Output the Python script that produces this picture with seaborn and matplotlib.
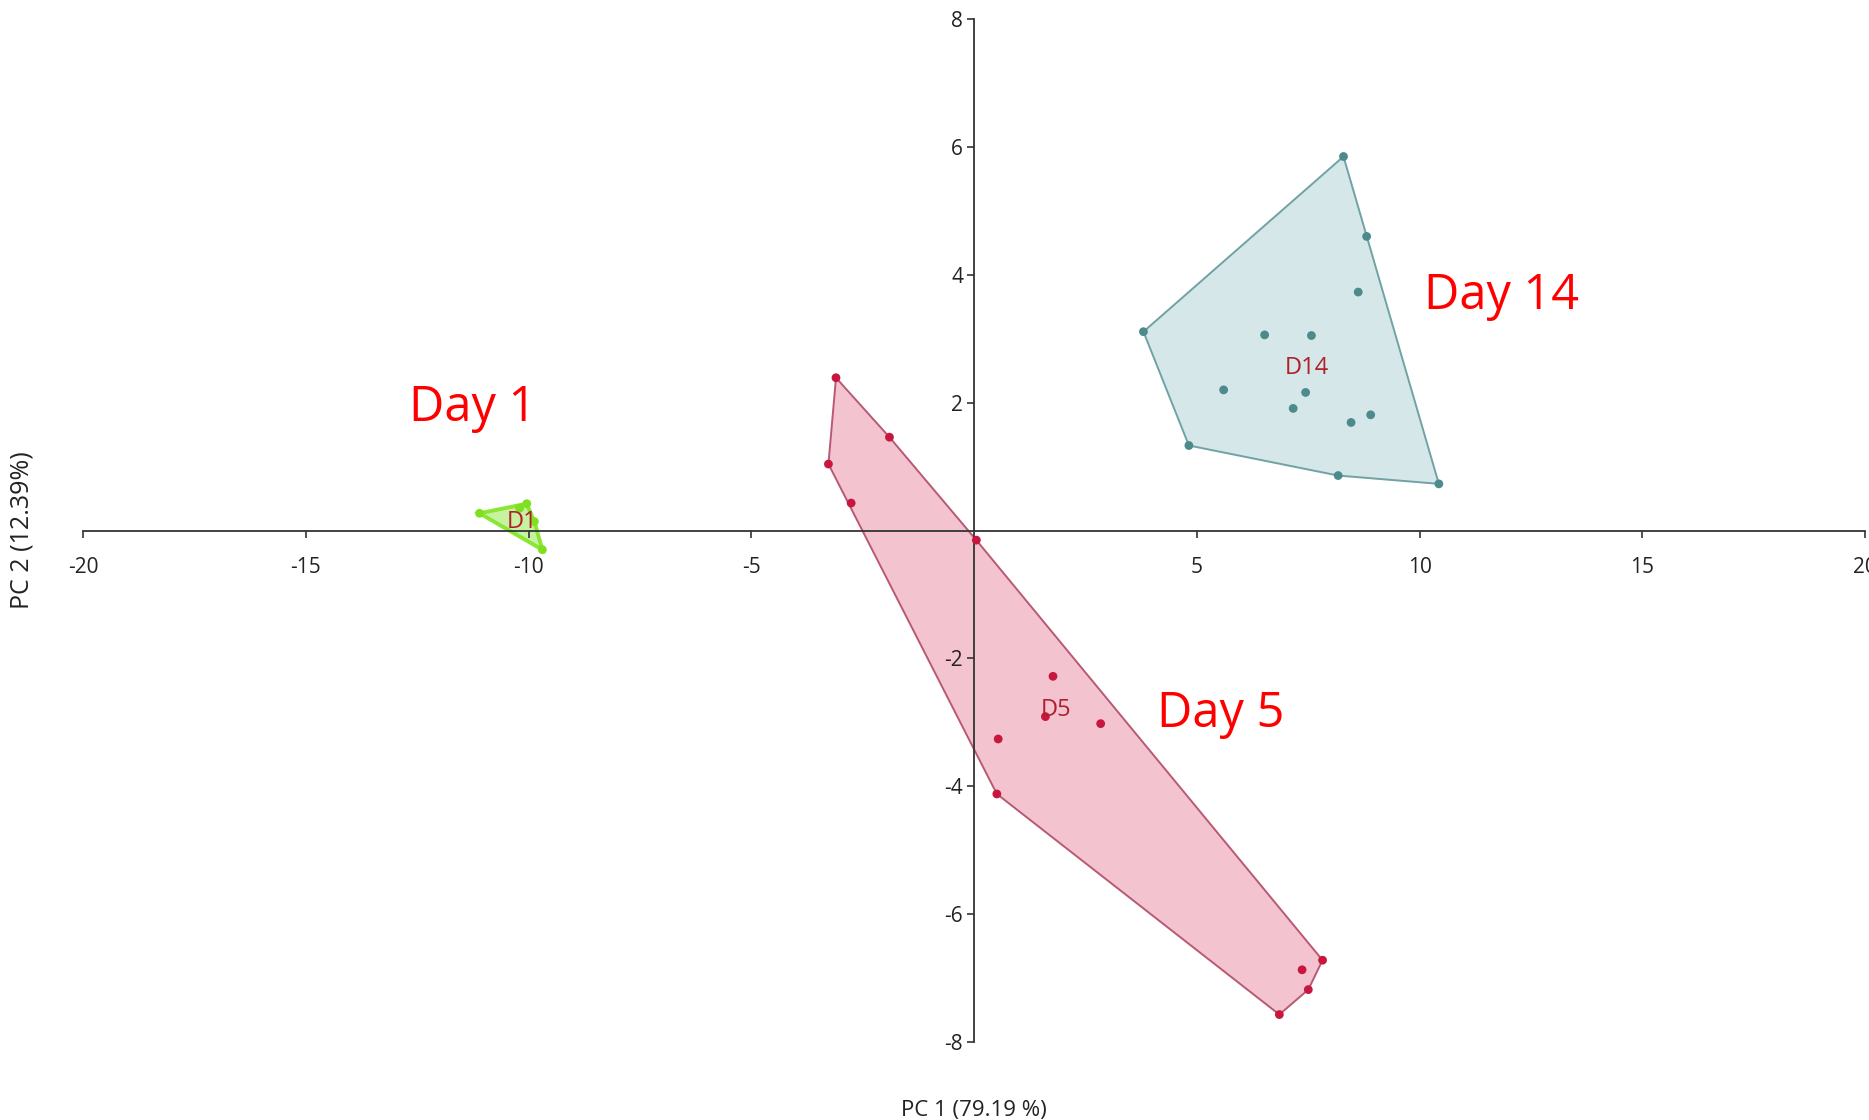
import numpy as np
import pandas as pd
import matplotlib
matplotlib.use("Agg")
import matplotlib.pyplot as plt
import seaborn as sns

# ---- data ----
d1_x = [-11.1, -10.04, -9.87, -9.69, -10.2]
d1_y = [0.27, 0.42, 0.14, -0.30, 0.35]

d5_x = [-3.10, -1.90, -3.27, -2.76, 0.05, 1.77, 1.60, 2.84, 0.54, 0.51, 7.82, 7.36, 7.50, 6.85]
d5_y = [2.39, 1.46, 1.04, 0.43, -0.15, -2.28, -2.91, -3.02, -3.26, -4.12, -6.72, -6.87, -7.18, -7.57]

d14_x = [8.29, 8.81, 8.62, 3.80, 6.52, 7.57, 5.60, 7.44, 7.16, 8.46, 8.90, 4.82, 8.17, 10.43]
d14_y = [5.85, 4.60, 3.73, 3.11, 3.06, 3.05, 2.20, 2.16, 1.91, 1.69, 1.81, 1.33, 0.86, 0.73]

groups = ["D1", "D5", "D14"]
centroid_labels = {"D1": (-10.15, 0.13), "D5": (1.85, -2.80), "D14": (7.47, 2.54)}
day_labels = [("Day 1", -11.25, 1.92), ("Day 5", 5.54, -2.87), ("Day 14", 11.83, 3.66)]
x_ticks = [-20, -15, -10, -5, 5, 10, 15, 20]
y_ticks = [-8, -6, -4, -2, 2, 4, 6, 8]
x_label = "PC 1 (79.19 %)"
y_label = "PC 2 (12.39%)"

point_colors = {"D1": "#7ee021", "D5": "#c8173f", "D14": "#4d8a8c"}
edge_colors = {"D1": "#86e62a", "D5": "#b5526e", "D14": "#6a9ea0"}
fill_colors = {"D1": "#c4f29c", "D5": "#f3c1cd", "D14": "#d3e6e7"}

df = pd.DataFrame({
    "x": d1_x + d5_x + d14_x,
    "y": d1_y + d5_y + d14_y,
    "group": ["D1"] * len(d1_x) + ["D5"] * len(d5_x) + ["D14"] * len(d14_x),
})


def convex_hull(pts):
    pts = sorted(set(pts))
    if len(pts) <= 2:
        return pts

    def cross(o, a, b):
        return (a[0] - o[0]) * (b[1] - o[1]) - (a[1] - o[1]) * (b[0] - o[0])

    lower, upper = [], []
    for p in pts:
        while len(lower) >= 2 and cross(lower[-2], lower[-1], p) <= 0:
            lower.pop()
        lower.append(p)
    for p in reversed(pts):
        while len(upper) >= 2 and cross(upper[-2], upper[-1], p) <= 0:
            upper.pop()
        upper.append(p)
    return lower[:-1] + upper[:-1]


sns.set_style("white")
plt.rcParams["font.family"] = ["Open Sans", "DejaVu Sans"]
plt.rcParams["axes.unicode_minus"] = False

fig = plt.figure(figsize=(18.69, 11.2), dpi=100)
ax = fig.add_axes([0.0444, 0.0696, 0.9536, 0.9134])
ax.set_axisbelow(False)

for g in groups:
    sub = df[df.group == g]
    hull = convex_hull(list(zip(sub.x, sub.y)))
    hx = [p[0] for p in hull]
    hy = [p[1] for p in hull]
    ax.fill(hx, hy, facecolor=fill_colors[g], edgecolor=edge_colors[g],
            linewidth=2.8 if g == "D1" else 1.4, alpha=0.95, zorder=1)

sns.scatterplot(data=df, x="x", y="y", hue="group", palette=point_colors,
                s=40, edgecolor="none", legend=False, ax=ax, zorder=3)

for g, (lx, ly) in centroid_labels.items():
    ax.text(lx, ly, g, color="#b0202a", fontsize=17, ha="center", va="center",
            zorder=4)

for txt, tx, ty in day_labels:
    ax.text(tx, ty, txt, color="#ff0000", fontsize=35, ha="center", va="center",
            zorder=5,
            bbox=dict(facecolor="white", edgecolor="none", pad=6) if txt == "Day 5" else None)

ax.set_xlim(-20, 20)
ax.set_ylim(-8, 8)
ax.set_xticks(x_ticks)
ax.set_yticks(y_ticks)
ax.set_xticklabels([str(t) for t in x_ticks])
ax.set_yticklabels([str(t) for t in y_ticks])

for s in ["top", "right"]:
    ax.spines[s].set_visible(False)
ax.spines["left"].set_position(("data", 0))
ax.spines["bottom"].set_position(("data", 0))
for s in ["left", "bottom"]:
    ax.spines[s].set_color("#333333")
    ax.spines[s].set_linewidth(1.3)
    ax.spines[s].set_zorder(2.5)

ax.tick_params(axis="both", direction="out", length=5, width=1.2, color="#333333",
               labelsize=15, labelcolor="#222222", left=True, bottom=True)
ax.tick_params(axis="x", pad=14)
ax.tick_params(axis="y", pad=3)

ax.set_xlabel(x_label, fontsize=16, color="#222222")
ax.set_ylabel(y_label, fontsize=18, color="#222222")
ax.xaxis.set_label_coords(0.5, -0.057)
ax.yaxis.set_label_coords(-0.027, 0.5)

fig.savefig("out.png", dpi=100, facecolor="white")
